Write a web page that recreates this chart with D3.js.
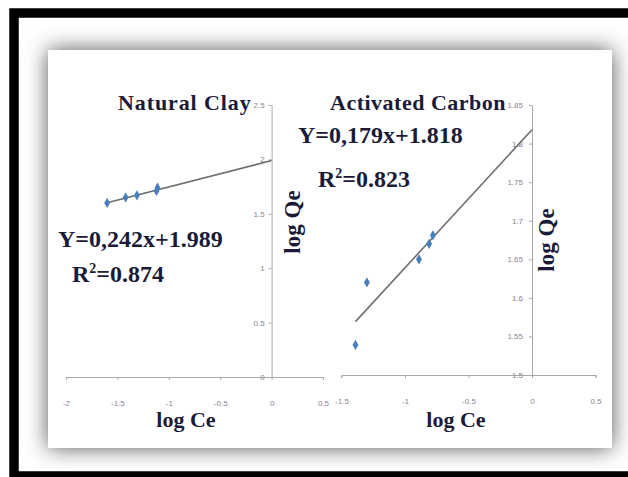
<!DOCTYPE html>
<html><head><meta charset="utf-8">
<script src="https://cdn.jsdelivr.net/npm/d3@7"></script>
<style>
body{margin:0;background:#fff}
svg{display:block}
.tick text{font-family:"Liberation Sans",Arial,sans-serif;font-size:8px;fill:#8a8296}
.tick line,.domain{stroke:#a9a9a9;stroke-width:1}
.lbl{font-family:"Liberation Serif","Times New Roman",serif;font-weight:bold;fill:#1b1b38}
</style>
</head><body>
<svg id="chart" width="628" height="477"></svg>
<script>
// Freundlich isotherm, natural clay
const clayLogCe = [-1.60, -1.42, -1.31, -1.12, -1.11];
const clayLogQe = [1.60, 1.65, 1.67, 1.71, 1.74];
const claySlope = 0.242, clayIntercept = 1.989, clayR2 = 0.874;
const clayXTicks = [-2, -1.5, -1, -0.5, 0, 0.5];
const clayYTicks = [0, 0.5, 1, 1.5, 2, 2.5];

// Freundlich isotherm, activated carbon
const carbonLogCe = [-1.39, -1.30, -0.89, -0.81, -0.78];
const carbonLogQe = [1.539, 1.620, 1.650, 1.670, 1.681];
const carbonSlope = 0.179, carbonIntercept = 1.818, carbonR2 = 0.823;
const carbonXTicks = [-1.5, -1, -0.5, 0, 0.5];
const carbonYTicks = [1.5, 1.55, 1.6, 1.65, 1.7, 1.75, 1.8, 1.85];

const svg = d3.select("#chart");
const defs = svg.append("defs");
defs.append("filter").attr("id", "shadow")
  .attr("x", "-20%").attr("y", "-20%").attr("width", "140%").attr("height", "140%")
  .append("feGaussianBlur").attr("stdDeviation", 11);

// frame, soft shadow and white panel
svg.append("rect").attr("x", 14).attr("y", 13).attr("width", 640).attr("height", 463)
  .attr("fill", "#fff").attr("stroke", "#000").attr("stroke-width", 9);
svg.append("rect").attr("x", 48).attr("y", 50).attr("width", 564).attr("height", 398)
  .attr("fill", "#555").attr("filter", "url(#shadow)");
svg.append("rect").attr("x", 48).attr("y", 50).attr("width", 564).attr("height", 398)
  .attr("fill", "#fff");
// redraw frame edges over the shadow
svg.append("rect").attr("x", 14).attr("y", 13).attr("width", 640).attr("height", 463)
  .attr("fill", "none").attr("stroke", "#000").attr("stroke-width", 9);

const fmt = d => String(d);

function panel(cfg) {
  const x = d3.scaleLinear().domain(cfg.xDomain).range(cfg.xRange);
  const y = d3.scaleLinear().domain(cfg.yDomain).range(cfg.yRange);
  const g = svg.append("g");

  g.append("g").attr("transform", `translate(0,${y(cfg.yDomain[0])})`)
    .call(d3.axisBottom(x).tickValues(cfg.xTicks).tickFormat(fmt)
      .tickSize(3).tickSizeOuter(3).tickPadding(20));
  g.append("g").attr("transform", `translate(${x(0)},0)`)
    .call(d3.axisLeft(y).tickValues(cfg.yTicks).tickFormat(fmt)
      .tickSize(3).tickSizeOuter(0).tickPadding(cfg.yPad));

  // linear fit from the stated equation
  const x0 = d3.min(cfg.xs);
  const fit = [x0, 0].map(v => [v, cfg.slope * v + cfg.intercept]);
  g.append("path").datum(fit)
    .attr("d", d3.line().x(d => x(d[0])).y(d => y(d[1])))
    .attr("fill", "none").attr("stroke", "#6e6e6e").attr("stroke-width", 1.6);

  g.selectAll(".pt").data(cfg.xs.map((v, i) => [v, cfg.ys[i]])).join("path")
    .attr("transform", d => `translate(${x(d[0])},${y(d[1])})`)
    .attr("d", d3.symbol(d3.symbolDiamond, 30))
    .attr("fill", "#4a7ebb");

  // axis titles
  g.append("text").attr("class", "lbl").attr("x", cfg.ceX).attr("y", 427)
    .attr("text-anchor", "middle").attr("font-size", 22).text("log Ce");

  const qe = g.append("g").attr("transform", `translate(${cfg.qeX},${cfg.qeY}) rotate(-90)`);
  const qeText = qe.append("text").attr("class", "lbl").attr("text-anchor", "middle")
    .attr("font-size", 23).text("log Qe");
  if (cfg.qeBox) {
    const b = qeText.node().getBBox();
    qe.insert("rect", "text").attr("x", b.x - 2).attr("y", b.y)
      .attr("width", b.width + 4).attr("height", b.height).attr("fill", "#fff");
  }

  g.append("text").attr("class", "lbl").attr("x", cfg.titleX).attr("y", 110)
    .attr("font-size", 22).attr("letter-spacing", cfg.titleSpacing).text(cfg.title);

  g.append("text").attr("class", "lbl").attr("x", cfg.eqX).attr("y", cfg.eqY)
    .attr("font-size", 24)
    .text(`Y=${String(cfg.slope).replace(".", ",")}x+${cfg.intercept.toFixed(3)}`);
  const r = g.append("text").attr("class", "lbl").attr("x", cfg.rX).attr("y", cfg.rY)
    .attr("font-size", 24);
  r.append("tspan").text("R");
  r.append("tspan").attr("font-size", 14).attr("dy", -9).text("2");
  r.append("tspan").attr("dy", 9).text(`=${cfg.r2.toFixed(3)}`);
}

panel({
  xs: clayLogCe, ys: clayLogQe, slope: claySlope, intercept: clayIntercept, r2: clayR2,
  xDomain: [-2, 0.5], xRange: [66, 323], yDomain: [0, 2.5], yRange: [377, 105],
  xTicks: clayXTicks, yTicks: clayYTicks, yPad: 4,
  title: "Natural Clay", titleX: 118, titleSpacing: 0.9,
  eqX: 58, eqY: 247, rX: 72, rY: 282,
  ceX: 186, qeX: 300, qeY: 222, qeBox: false
});

panel({
  xs: carbonLogCe, ys: carbonLogQe, slope: carbonSlope, intercept: carbonIntercept, r2: carbonR2,
  xDomain: [-1.5, 0.5], xRange: [341.5, 595.5], yDomain: [1.5, 1.85], yRange: [375, 105],
  xTicks: carbonXTicks, yTicks: carbonYTicks, yPad: 6,
  title: "Activated Carbon", titleX: 330, titleSpacing: 0.5,
  eqX: 298, eqY: 143, rX: 318, rY: 187,
  ceX: 456, qeX: 554, qeY: 240, qeBox: true
});
</script>
</body></html>
